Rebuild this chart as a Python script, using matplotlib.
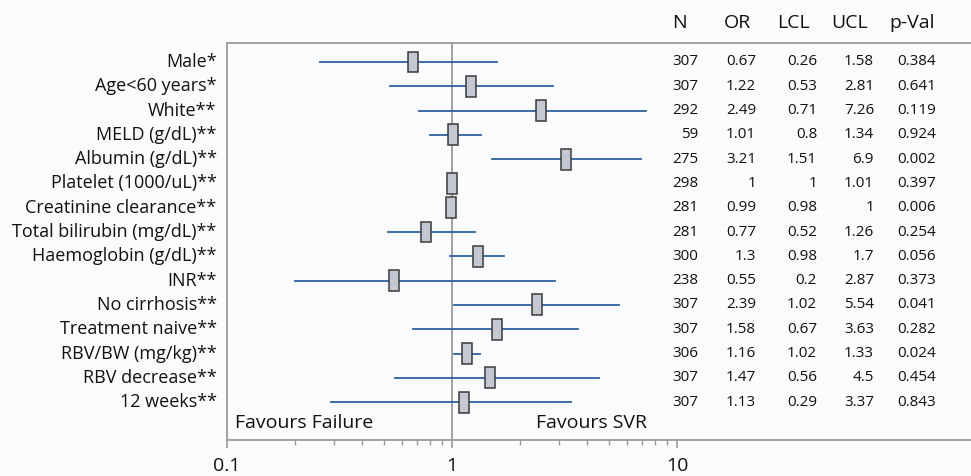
import matplotlib
matplotlib.use("Agg")
import matplotlib.pyplot as plt
from matplotlib.patches import Rectangle
from matplotlib.ticker import NullFormatter, FixedLocator, FixedFormatter

plt.rcParams['font.family'] = ['Open Sans', 'DejaVu Sans']

labels = ["Male*", "Age<60 years*", "White**", "MELD (g/dL)**", "Albumin (g/dL)**",
          "Platelet (1000/uL)**", "Creatinine clearance**", "Total bilirubin (mg/dL)**",
          "Haemoglobin (g/dL)**", "INR**", "No cirrhosis**", "Treatment naive**",
          "RBV/BW (mg/kg)**", "RBV decrease**", "12 weeks**"]
n_vals = ["307", "307", "292", "59", "275", "298", "281", "281", "300", "238", "307", "307", "306", "307", "307"]
or_vals = [0.67, 1.22, 2.49, 1.01, 3.21, 1, 0.99, 0.77, 1.3, 0.55, 2.39, 1.58, 1.16, 1.47, 1.13]
lcl_vals = [0.26, 0.53, 0.71, 0.8, 1.51, 1, 0.98, 0.52, 0.98, 0.2, 1.02, 0.67, 1.02, 0.56, 0.29]
ucl_vals = [1.58, 2.81, 7.26, 1.34, 6.9, 1.01, 1, 1.26, 1.7, 2.87, 5.54, 3.63, 1.33, 4.5, 3.37]
p_vals = ["0.384", "0.641", "0.119", "0.924", "0.002", "0.397", "0.006", "0.254",
          "0.056", "0.373", "0.041", "0.282", "0.024", "0.454", "0.843"]
or_txt = ["0.67", "1.22", "2.49", "1.01", "3.21", "1", "0.99", "0.77", "1.3", "0.55", "2.39", "1.58", "1.16", "1.47", "1.13"]
lcl_txt = ["0.26", "0.53", "0.71", "0.8", "1.51", "1", "0.98", "0.52", "0.98", "0.2", "1.02", "0.67", "1.02", "0.56", "0.29"]
ucl_txt = ["1.58", "2.81", "7.26", "1.34", "6.9", "1.01", "1", "1.26", "1.7", "2.87", "5.54", "3.63", "1.33", "4.5", "3.37"]
headers = ["N", "OR", "LCL", "UCL", "p-Val"]
tick_vals = [0.1, 1, 10]
tick_labels = ["0.1", "1", "10"]

W, H = 971, 476
bg = "#fafbfd"
fig = plt.figure(figsize=(W/100, H/100), dpi=100, facecolor=bg)
x0, x1 = 227, 971
ytop, ybot = 43, 440
ax = fig.add_axes([x0/W, 1-ybot/H, (x1-x0)/W, (ybot-ytop)/H], facecolor=bg)

ax.set_xscale('log')
xmax = 10 ** (-1 + (x1 - x0) / 225.0)
ax.set_xlim(0.1, xmax)
n = len(labels)
ax.set_ylim(n - 1 + 1.56, -0.78)

line_col = "#2f609c"
half = 5 / 225.0
for i in range(n):
    ax.plot([lcl_vals[i], ucl_vals[i]], [i, i], color=line_col, lw=1.3, zorder=2)
    lo = or_vals[i] * 10 ** (-half)
    hi = or_vals[i] * 10 ** (half)
    ax.add_patch(Rectangle((lo, i - 0.43), hi - lo, 0.86, facecolor="#c5c7d3",
                           edgecolor="#3a3a3a", lw=1.1, zorder=3))

ax.axvline(1, color="#999999", lw=1.3, zorder=1)

ax.spines['right'].set_visible(False)
for s in ['top', 'left', 'bottom']:
    ax.spines[s].set_color("#9a9a9a")
    ax.spines[s].set_linewidth(1.3)

ax.set_yticks([])
ax.xaxis.set_major_locator(FixedLocator(tick_vals))
ax.xaxis.set_major_formatter(FixedFormatter(tick_labels))
ax.xaxis.set_minor_locator(FixedLocator([k * 10 ** e for e in (-1, 0) for k in range(2, 10)]))
ax.xaxis.set_minor_formatter(NullFormatter())
ax.tick_params(axis='x', which='major', length=6, width=1.2, color="#9a9a9a",
               labelsize=14, pad=6, labelcolor="#111111")
ax.tick_params(axis='x', which='minor', length=3.6, width=1.0, color="#9a9a9a")

trans = ax.get_yaxis_transform()
for i, lab in enumerate(labels):
    ax.text(-0.014, i, lab, transform=trans, ha='right', va='center',
            fontsize=13, color="#111111")

def fx(px):
    return (px - x0) / (x1 - x0)

col_right = [698, 756, 817, 874, 936]
col_head = [679, 737, 793, 850, 912]
cols = [n_vals, or_txt, lcl_txt, ucl_txt, p_vals]
for xr, vals in zip(col_right, cols):
    for i, v in enumerate(vals):
        ax.text(fx(xr), i, v, transform=trans, ha='right', va='center', fontsize=11, color="#111111")
for xh, h in zip(col_head, headers):
    fig.text(xh / W, 1 - 23 / H, h, ha='center', va='center', fontsize=14, color="#111111")

ax.text(fx(235), n - 1 + 0.86, "Favours Failure", transform=trans, ha='left', va='center',
        fontsize=14, color="#111111")
ax.text(fx(536), n - 1 + 0.86, "Favours SVR", transform=trans, ha='left', va='center',
        fontsize=14, color="#111111")

fig.savefig("out.png", dpi=100, facecolor=bg)
